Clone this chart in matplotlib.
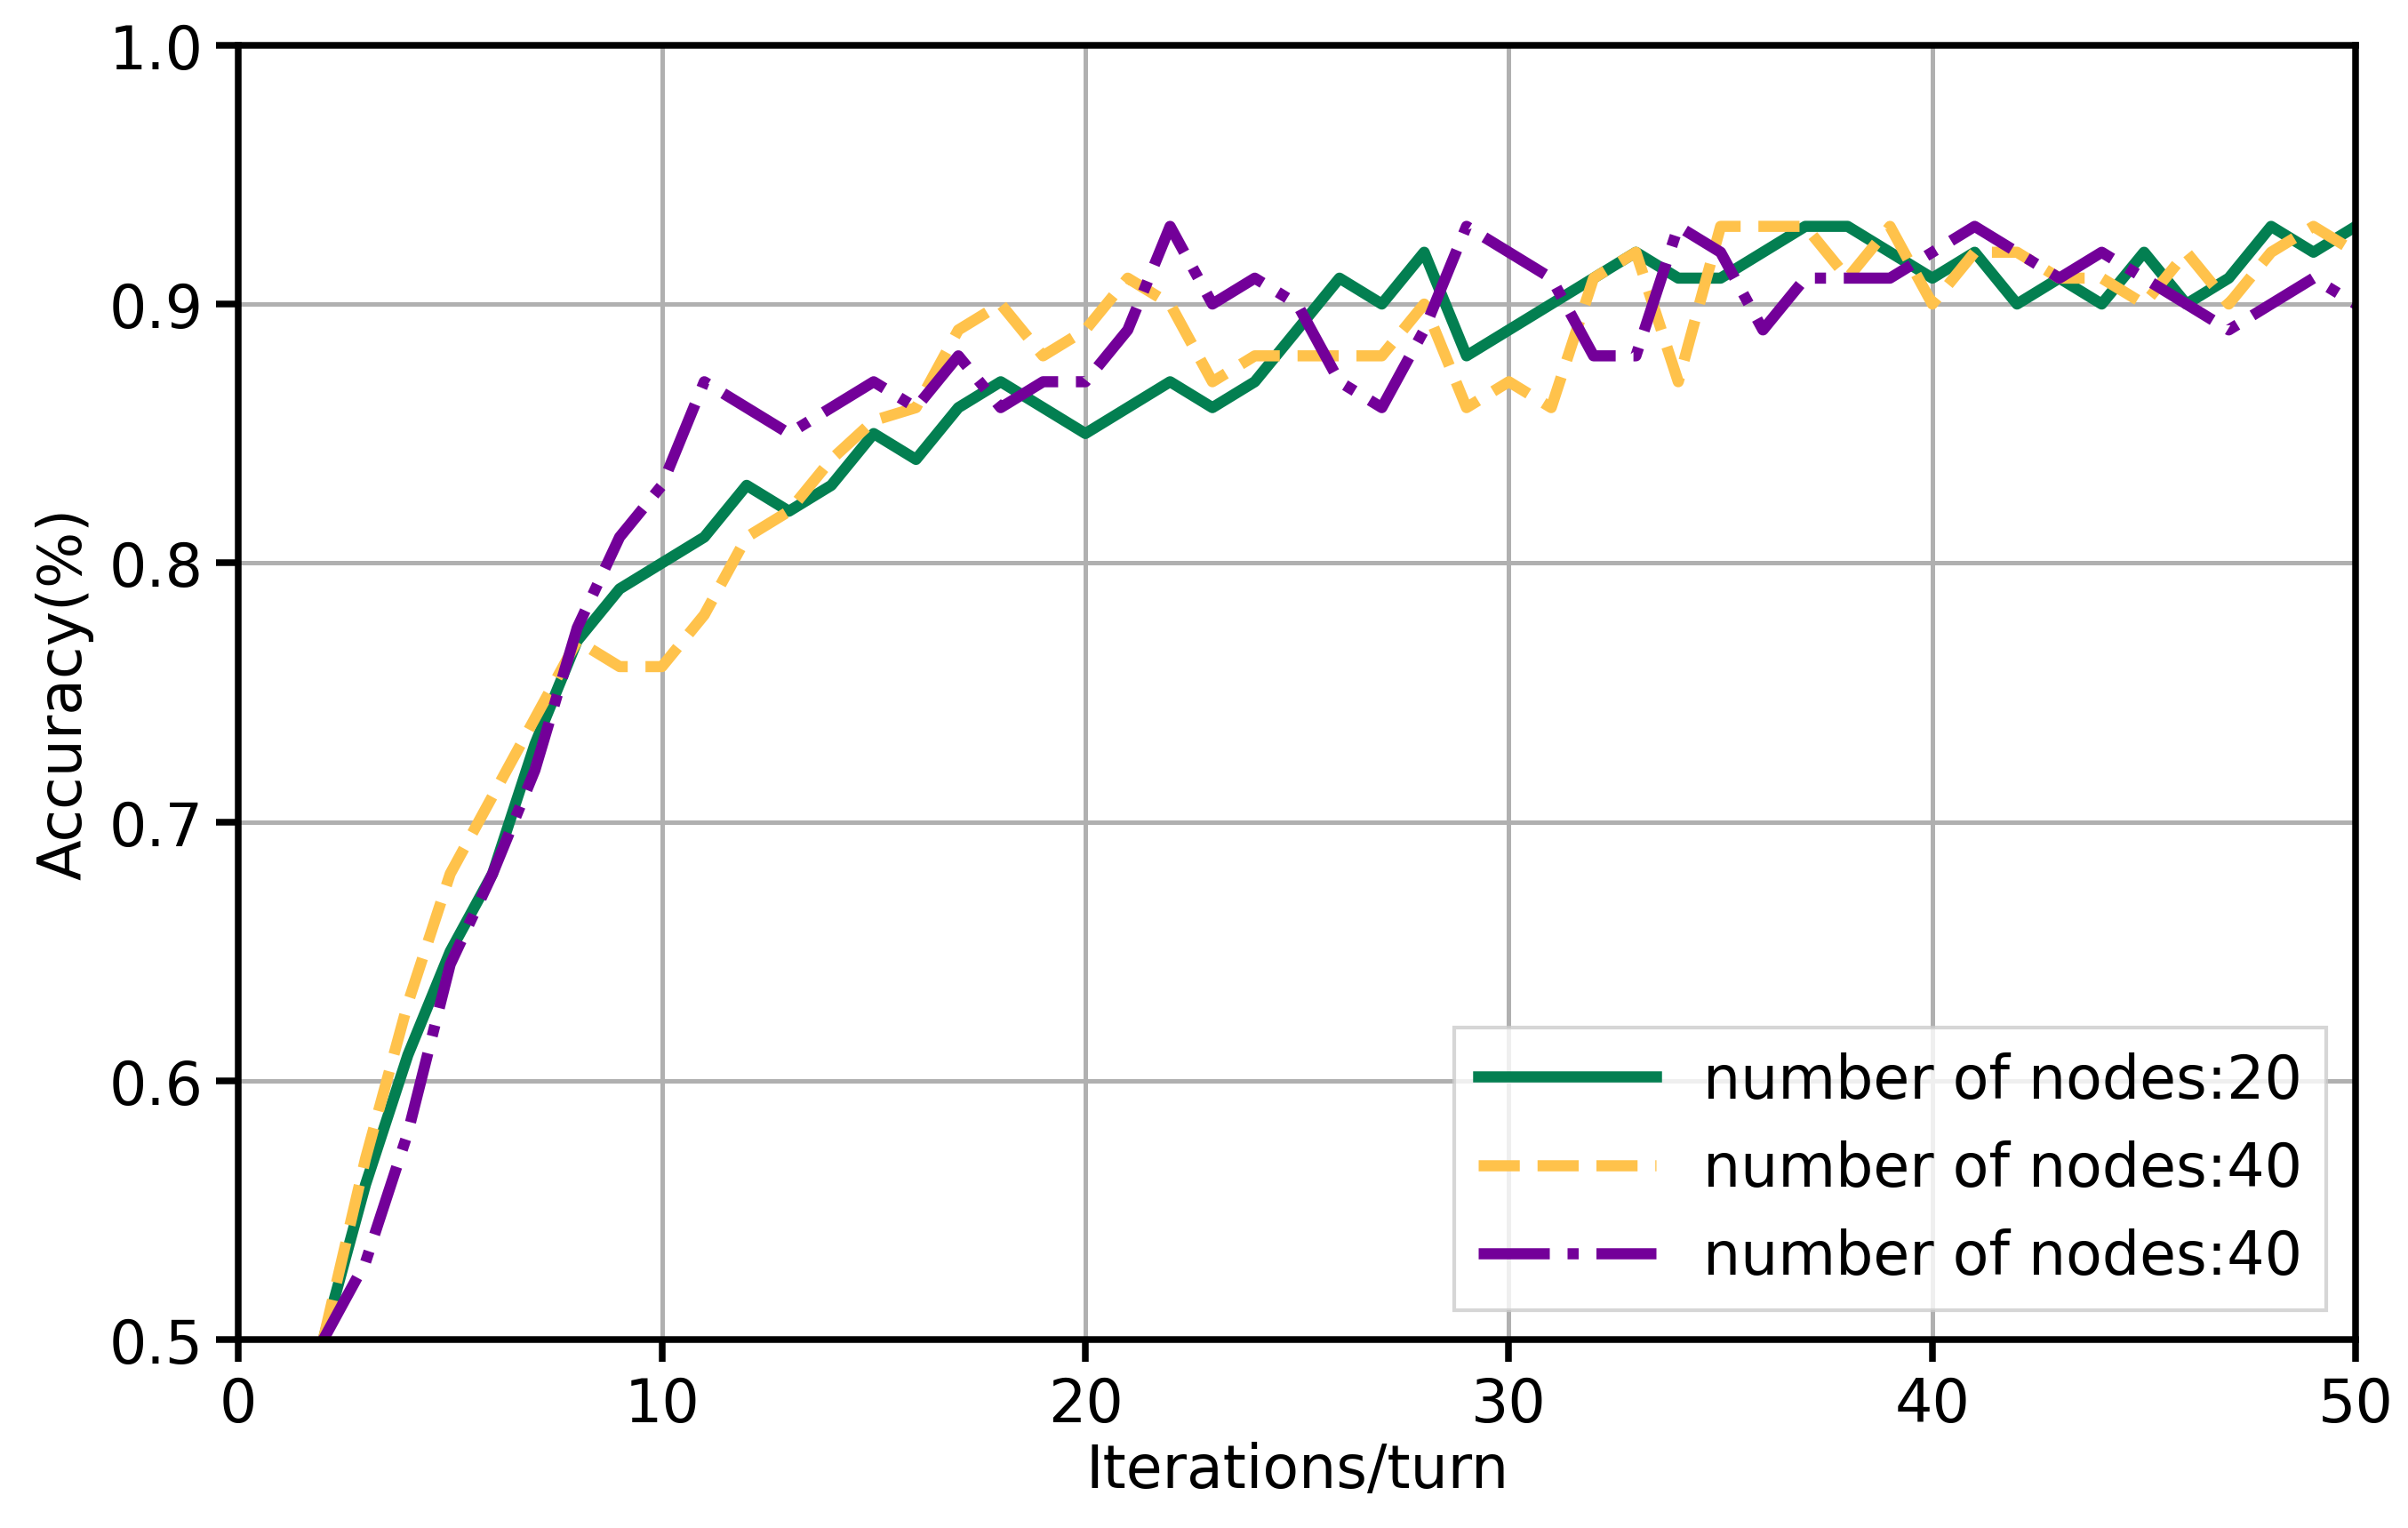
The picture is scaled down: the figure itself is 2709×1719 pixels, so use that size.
import matplotlib
matplotlib.use("Agg")
import matplotlib.pyplot as plt

iters = list(range(2, 51))

acc_20 = [0.50, 0.56, 0.61, 0.65, 0.68, 0.73, 0.77, 0.79, 0.80, 0.81, 0.83, 0.82, 0.83, 0.85, 0.84,
          0.86, 0.87, 0.86, 0.85, 0.86, 0.87, 0.86, 0.87, 0.89, 0.91, 0.90, 0.92, 0.88, 0.89, 0.90,
          0.91, 0.92, 0.91, 0.91, 0.92, 0.93, 0.93, 0.92, 0.91, 0.92, 0.90, 0.91, 0.90, 0.92, 0.90,
          0.91, 0.93, 0.92, 0.93]
acc_40a = [0.50, 0.57, 0.63, 0.68, 0.71, 0.74, 0.77, 0.76, 0.76, 0.78, 0.81, 0.82, 0.84, 0.855, 0.86,
           0.89, 0.90, 0.88, 0.89, 0.91, 0.90, 0.87, 0.88, 0.88, 0.88, 0.88, 0.90, 0.86, 0.87, 0.86,
           0.91, 0.92, 0.87, 0.93, 0.93, 0.93, 0.91, 0.93, 0.90, 0.92, 0.92, 0.91, 0.91, 0.90, 0.92,
           0.90, 0.92, 0.93, 0.92]
acc_40b = [0.50, 0.53, 0.58, 0.645, 0.68, 0.72, 0.775, 0.81, 0.83, 0.87, 0.86, 0.85, 0.86, 0.87, 0.86,
           0.88, 0.86, 0.87, 0.87, 0.89, 0.93, 0.90, 0.91, 0.90, 0.87, 0.86, 0.89, 0.93, 0.92, 0.91,
           0.88, 0.88, 0.93, 0.92, 0.89, 0.91, 0.91, 0.91, 0.92, 0.93, 0.92, 0.91, 0.92, 0.91, 0.90,
           0.89, 0.90, 0.91, 0.90]

fig = plt.figure(figsize=(9.033, 5.733), dpi=300)
ax = fig.add_axes([0.099, 0.123, 0.879, 0.847])

ax.plot(iters, acc_20, color="#037f51", lw=3, ls="-", label="number of nodes:20")
ax.plot(iters, acc_40a, color="#ffc24b", lw=3, ls="--", label="number of nodes:40")
ax.plot(iters, acc_40b, color="#730099", lw=3, ls="-.", label="number of nodes:40")

ax.set_xlim(0, 50)
ax.set_ylim(0.5, 1.0)
ax.grid(True, color="#b0b0b0", lw=1.2)
ax.set_axisbelow(True)
for s in ax.spines.values():
    s.set_linewidth(1.8)
ax.tick_params(labelsize=16, width=1.8, length=6)
ax.set_xlabel("Iterations/turn", fontsize=16, labelpad=2)
ax.set_ylabel("Accuracy(%)", fontsize=16, labelpad=4)
ax.legend(loc="lower right", fontsize=16, handlelength=3, fancybox=False)

fig.savefig("out.png", dpi=300)
